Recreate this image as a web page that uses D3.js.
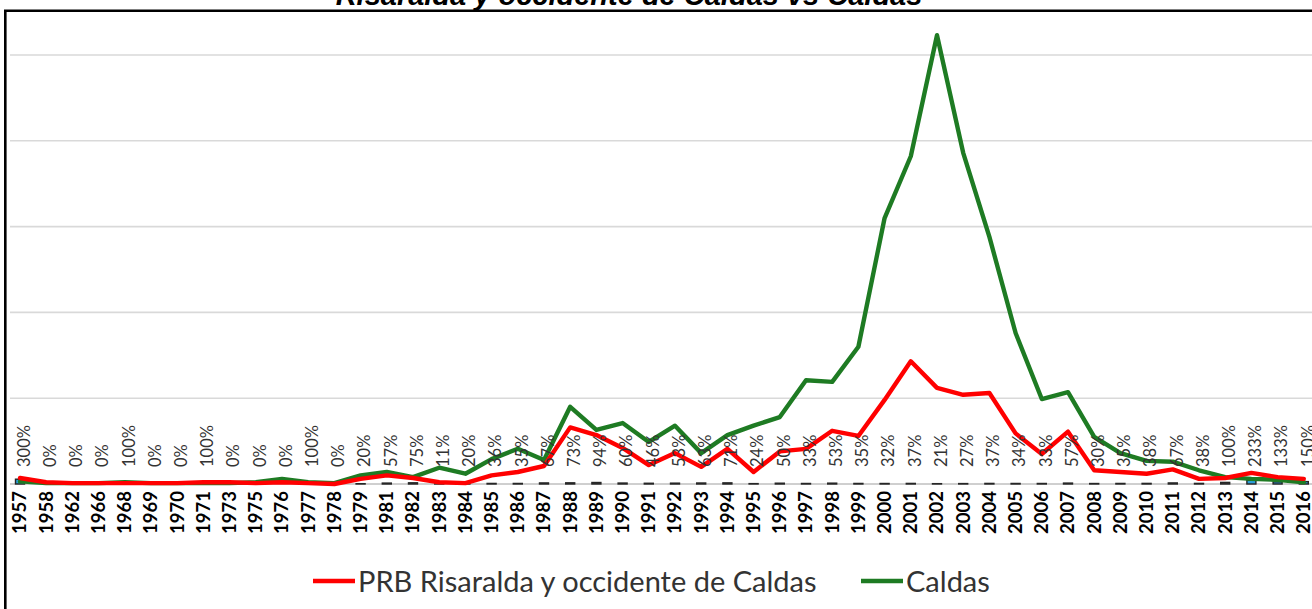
<!DOCTYPE html>
<html>
<head>
<meta charset="utf-8">
<script src="https://cdn.jsdelivr.net/npm/d3@7"></script>
<style>
  html, body { margin: 0; padding: 0; background: #fff; }
  svg { display: block; }
</style>
</head>
<body>
<svg id="chart" width="1312" height="609"></svg>
<script>
// ── Data ──
const years = ["1957","1958","1962","1966","1968","1969","1970","1971","1973","1975",
  "1976","1977","1978","1979","1981","1982","1983","1984","1985","1986",
  "1987","1988","1989","1990","1991","1992","1993","1994","1995","1996",
  "1997","1998","1999","2000","2001","2002","2003","2004","2005","2006",
  "2007","2008","2009","2010","2011","2012","2013","2014","2015","2016"];

// PRB Risaralda y occidente de Caldas
const prbValues = [7,2,1,1,1,1,1,2,2,1,
  2,1,0,6,10,7,2,1,10,14,
  21,66,57,42,22,36,20,41,14,38,
  41,62,56,98,143,112,104,106,59,35,
  61,16,14,12,17,6,7,13,8,6];

// Caldas
const caldasValues = [3,1,1,1,2,1,1,1,1,2,
  6,2,1,10,14,8,19,12,29,41,
  28,90,63,71,49,68,36,57,68,78,
  121,119,160,310,382,523,386,288,176,99,
  107,55,36,27,26,16,8,6,5,2];

// ratio shown as bar + percentage label
const pctValues = [300,0,0,0,100,0,0,100,0,0,
  0,100,0,20,57,75,11,20,36,35,
  67,73,94,60,46,53,63,71,24,50,
  33,53,35,32,37,21,27,37,34,33,
  57,30,35,38,67,38,100,233,133,150];

const yTicks = [0, 100, 200, 300, 400, 500];

const svg = d3.select("#chart");
const W = 1312, H = 609;
const baseY = 484;

const x = d3.scaleBand().domain(years).range([6.9, 1316.9]).padding(0);
const cx = d => x(d) + x.bandwidth() / 2;
const y = d3.scaleLinear().domain([0, 500]).range([baseY, 55]);
const barH = d3.scaleLinear().domain([0, 100]).range([0, 1.6]);

// ── Frame (chart area border, cropped on right/bottom) ──
svg.append("path")
  .attr("d", `M5.3,${H} L5.3,10.8 L${W},10.8`)
  .attr("fill", "none")
  .attr("stroke", "#000")
  .attr("stroke-width", 2.6);

// ── Title (partially cut off at top) ──
svg.append("text")
  .attr("x", 629)
  .attr("y", 5)
  .attr("text-anchor", "middle")
  .attr("font-family", "'Liberation Sans', Arial, sans-serif")
  .attr("font-weight", "bold")
  .attr("font-style", "italic")
  .attr("font-size", 29)
  .attr("fill", "#000")
  .text("Risaralda y occidente de Caldas vs Caldas");

// ── Gridlines ──
svg.append("g")
  .selectAll("line")
  .data(yTicks.slice(1))
  .join("line")
    .attr("x1", 10).attr("x2", W)
    .attr("y1", d => y(d)).attr("y2", d => y(d))
    .attr("stroke", "#d9d9d9")
    .attr("stroke-width", 1.6);

// ── Category axis line ──
svg.append("line")
  .attr("x1", 10).attr("x2", W)
  .attr("y1", baseY).attr("y2", baseY)
  .attr("stroke", "#bfbfbf")
  .attr("stroke-width", 1.6);

// ── Small ratio bars ──
svg.append("g")
  .selectAll("rect")
  .data(years.map((yr, i) => ({ yr, p: pctValues[i] })).filter(d => d.p > 0))
  .join("rect")
    .attr("x", d => cx(d.yr) - 4.5)
    .attr("width", 9)
    .attr("y", d => baseY - barH(d.p))
    .attr("height", d => barH(d.p))
    .attr("fill", d => d.p > 100 ? "#2a9fd8" : "#4a4a4a")
    .attr("stroke", "#262626")
    .attr("stroke-width", 1.4);

// ── Lines ──
const line = d3.line()
  .x((d, i) => cx(years[i]))
  .y(d => y(d));

svg.append("path")
  .datum(caldasValues)
  .attr("d", line)
  .attr("fill", "none")
  .attr("stroke", "#1e7b23")
  .attr("stroke-width", 4.4)
  .attr("stroke-linejoin", "round")
  .attr("stroke-linecap", "round");

svg.append("path")
  .datum(prbValues)
  .attr("d", line)
  .attr("fill", "none")
  .attr("stroke", "#ff0000")
  .attr("stroke-width", 4.4)
  .attr("stroke-linejoin", "round")
  .attr("stroke-linecap", "round");

// ── Percentage labels ──
svg.append("g")
  .selectAll("text")
  .data(years)
  .join("text")
    .attr("transform", (d, i) => `translate(${cx(d) + 4},467) rotate(-90)`)
    .attr("dy", "0.35em")
    .attr("font-family", "Lato, 'Open Sans', sans-serif")
    .attr("font-size", 16.5)
    .attr("fill", "#333")
    .text((d, i) => pctValues[i] + "%");

// ── Year labels ──
svg.append("g")
  .selectAll("text")
  .data(years)
  .join("text")
    .attr("transform", d => `translate(${cx(d)},491) rotate(-90)`)
    .attr("dy", "0.35em")
    .attr("text-anchor", "end")
    .attr("font-family", "Lato, 'Open Sans', sans-serif")
    .attr("font-weight", "bold")
    .attr("font-size", 18.5)
    .attr("fill", "#000")
    .text(d => d);

// ── Legend ──
const legendItems = [
  { name: "PRB Risaralda y occidente de Caldas", color: "#ff0000", x0: 313 },
  { name: "Caldas", color: "#1e7b23", x0: 861 }
];
const lg = svg.append("g").selectAll("g")
  .data(legendItems)
  .join("g")
    .attr("transform", d => `translate(${d.x0},581)`);
lg.append("line")
  .attr("x1", 0).attr("x2", 42)
  .attr("stroke", d => d.color)
  .attr("stroke-width", 4.4);
lg.append("text")
  .attr("x", 45)
  .attr("y", 11)
  .attr("font-family", "Lato, 'Open Sans', sans-serif")
  .attr("font-size", 29)
  .attr("fill", "#333")
  .text(d => d.name);
</script>
</body>
</html>
